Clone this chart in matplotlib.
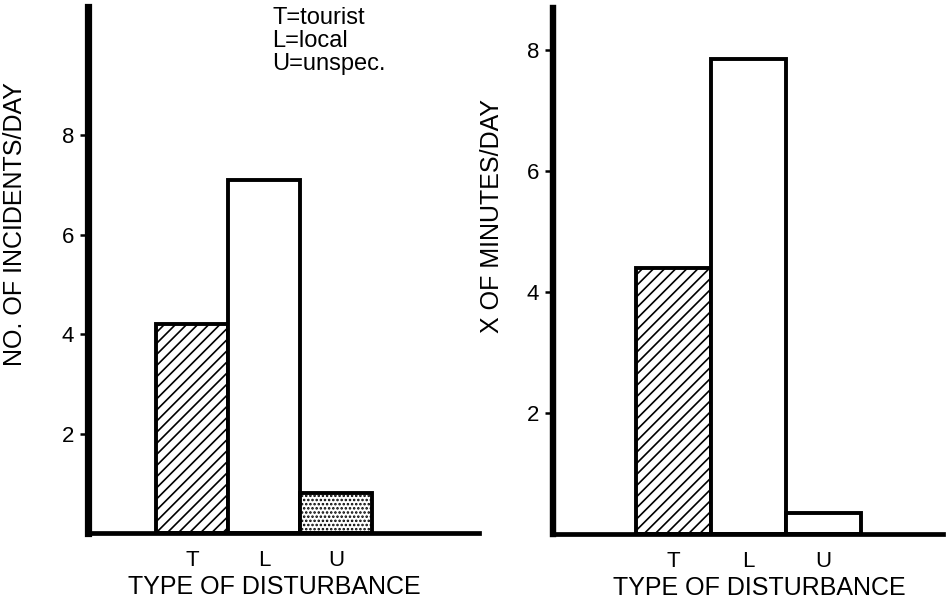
import matplotlib.pyplot as plt

plt.rcParams["font.family"] = ["Liberation Sans", "DejaVu Sans"]
plt.rcParams["hatch.linewidth"] = 1.2

categories = ["T", "L", "U"]
incidents_per_day = [4.2, 7.1, 0.8]
minutes_per_day = [4.4, 7.85, 0.35]
y_ticks = [2, 4, 6, 8]
key_lines = ["T=tourist", "L=local", "U=unspec."]

hatches_left = ["///", "", "...."]
hatches_right = ["///", "", ""]


def draw_panel(ax, values, hatches, ylabel, ylim, xlim, spine_w,
               ylabel_xy, xlabel_xy):
    pos = range(len(values))
    for x, v, h in zip(pos, values, hatches):
        ax.bar(x, v, width=1.0, color="white", edgecolor="black",
               linewidth=2.8, hatch=h, zorder=2)
    ax.set_xlim(*xlim)
    ax.set_ylim(*ylim)
    ax.set_yticks(y_ticks)
    ax.set_yticklabels([str(t) for t in y_ticks], fontsize=16)
    ax.set_xticks(list(pos))
    ax.set_xticklabels(categories, fontsize=16)
    ax.tick_params(axis="y", length=6, width=1.8, pad=4)
    ax.tick_params(axis="x", length=0, pad=12)
    for s in ("top", "right"):
        ax.spines[s].set_visible(False)
    ax.spines["left"].set_linewidth(spine_w)
    ax.spines["bottom"].set_linewidth(3.4)
    ax.set_xlabel("TYPE OF DISTURBANCE", fontsize=18, va="center")
    ax.xaxis.set_label_coords(*xlabel_xy)
    ax.set_ylabel(ylabel, fontsize=18, va="center")
    ax.yaxis.set_label_coords(*ylabel_xy)


fig = plt.figure(figsize=(9.5, 6.01), dpi=100)
ax1 = fig.add_axes([0.0926, 0.113, 0.4116, 0.875])
ax2 = fig.add_axes([0.5821, 0.1115, 0.4105, 0.875])

draw_panel(ax1, incidents_per_day, hatches_left, "NO. OF INCIDENTS/DAY",
           (0, 10.58), (-1.45, 3.99), 5.2, (-0.187, 0.587), (0.476, -0.103))
draw_panel(ax2, minutes_per_day, hatches_right, "X OF MINUTES/DAY",
           (0, 8.70), (-1.61, 3.59), 4.6, (-0.156, 0.605), (0.528, -0.103))

ax1.text(0.471, 1.0, "\n".join(key_lines), transform=ax1.transAxes,
         fontsize=17, va="top", ha="left", linespacing=1.05)

fig.savefig("out.png", dpi=100)
